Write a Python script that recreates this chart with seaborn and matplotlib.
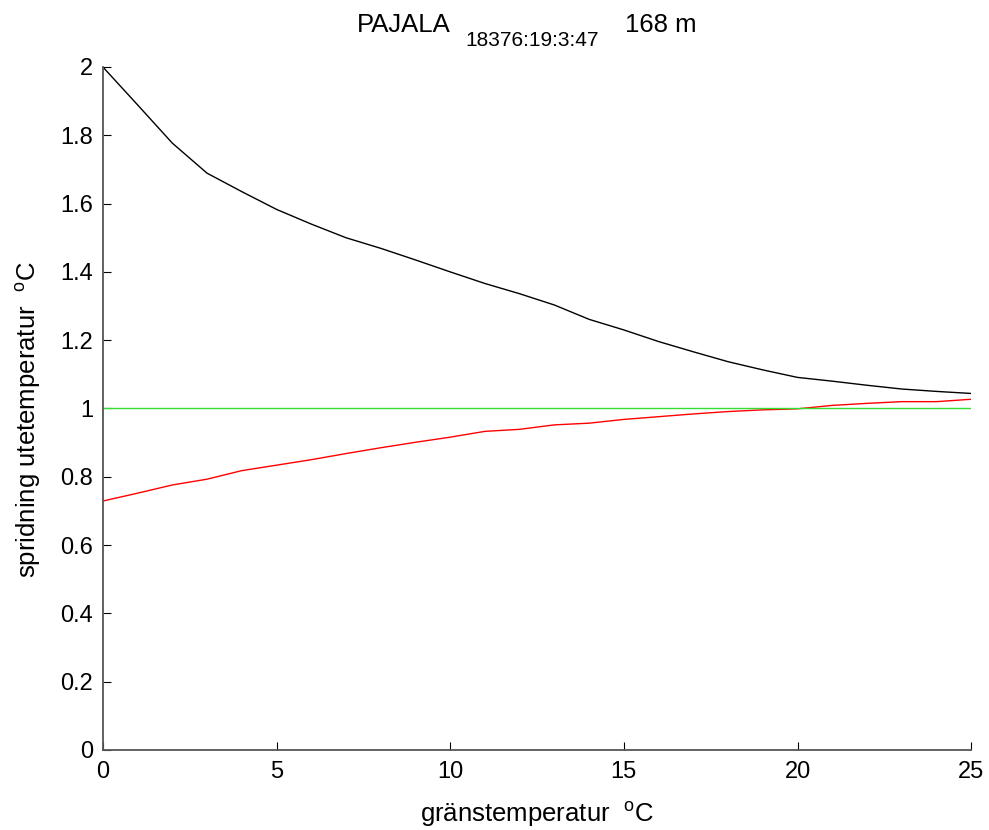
import numpy as np
import pandas as pd
import matplotlib
matplotlib.use('Agg')
import matplotlib.pyplot as plt
import seaborn as sns

# grenstemperatur (x) och spridning per kurva
grans_temp = list(range(0, 26))
spridning_svart = [2.00, 1.889, 1.777, 1.689, 1.635, 1.583, 1.540, 1.500, 1.469, 1.435,
                   1.400, 1.366, 1.336, 1.303, 1.261, 1.230, 1.196, 1.166, 1.137, 1.113,
                   1.091, 1.080, 1.068, 1.057, 1.050, 1.044]
spridning_rod = [0.729, 0.752, 0.776, 0.793, 0.818, 0.834, 0.850, 0.868, 0.885, 0.901,
                 0.916, 0.933, 0.939, 0.952, 0.957, 0.968, 0.976, 0.984, 0.991, 0.996,
                 0.999, 1.009, 1.015, 1.020, 1.020, 1.027]
referens = [1.0, 1.0]
referens_x = [0, 25]

df = pd.DataFrame({'t': grans_temp, 'svart': spridning_svart, 'rod': spridning_rod})

sns.set_theme(style='white')
plt.rcParams['font.family'] = ['Liberation Sans', 'DejaVu Sans']
plt.rcParams['mathtext.fontset'] = 'custom'
plt.rcParams['mathtext.rm'] = 'Liberation Sans'
plt.rcParams['mathtext.it'] = 'Liberation Sans'
plt.rcParams['text.color'] = 'black'
plt.rcParams['axes.labelcolor'] = 'black'
plt.rcParams['xtick.color'] = 'black'
plt.rcParams['ytick.color'] = 'black'

fig = plt.figure(figsize=(9.89, 8.30), dpi=100)
ax = fig.add_axes([0.104, 0.0964, 0.878, 0.8229])

sns.lineplot(data=df, x='t', y='svart', color='black', lw=1, ax=ax)
sns.lineplot(data=df, x='t', y='rod', color='red', lw=1, ax=ax)
sns.lineplot(x=referens_x, y=referens, color='#33dd33', lw=1, ax=ax)

ax.set_xlim(0, 25)
ax.set_ylim(0, 2)
ax.set_xticks([0, 5, 10, 15, 20, 25])
ax.set_yticks(np.arange(0, 2.01, 0.2))
ax.set_yticklabels(['0', '0.2', '0.4', '0.6', '0.8', '1', '1.2', '1.4', '1.6', '1.8', '2'])
ax.tick_params(direction='in', length=6, width=0.8, labelsize=17,
               bottom=True, left=True)
ax.tick_params(axis='y', pad=7)
ax.tick_params(axis='x', pad=8)
for side in ['top', 'right']:
    ax.spines[side].set_visible(False)
for side in ['left', 'bottom']:
    ax.spines[side].set_color('#555555')
    ax.spines[side].set_linewidth(1.3)

ax.set_xlabel('gränstemperatur  $^{\\mathrm{o}}$C', fontsize=18.5, labelpad=12)
ax.set_ylabel('spridning utetemperatur  $^{\\mathrm{o}}$C', fontsize=18.5)
ax.yaxis.set_label_coords(-0.069, 0.483)

fig.text(0.361, 0.962, 'PAJALA', fontsize=18.5, ha='left', va='baseline')
fig.text(0.471, 0.945, '18376:19:3:47', fontsize=15, ha='left', va='baseline')
fig.text(0.632, 0.962, '168 m', fontsize=18.5, ha='left', va='baseline')

fig.savefig('out.png', dpi=100)
